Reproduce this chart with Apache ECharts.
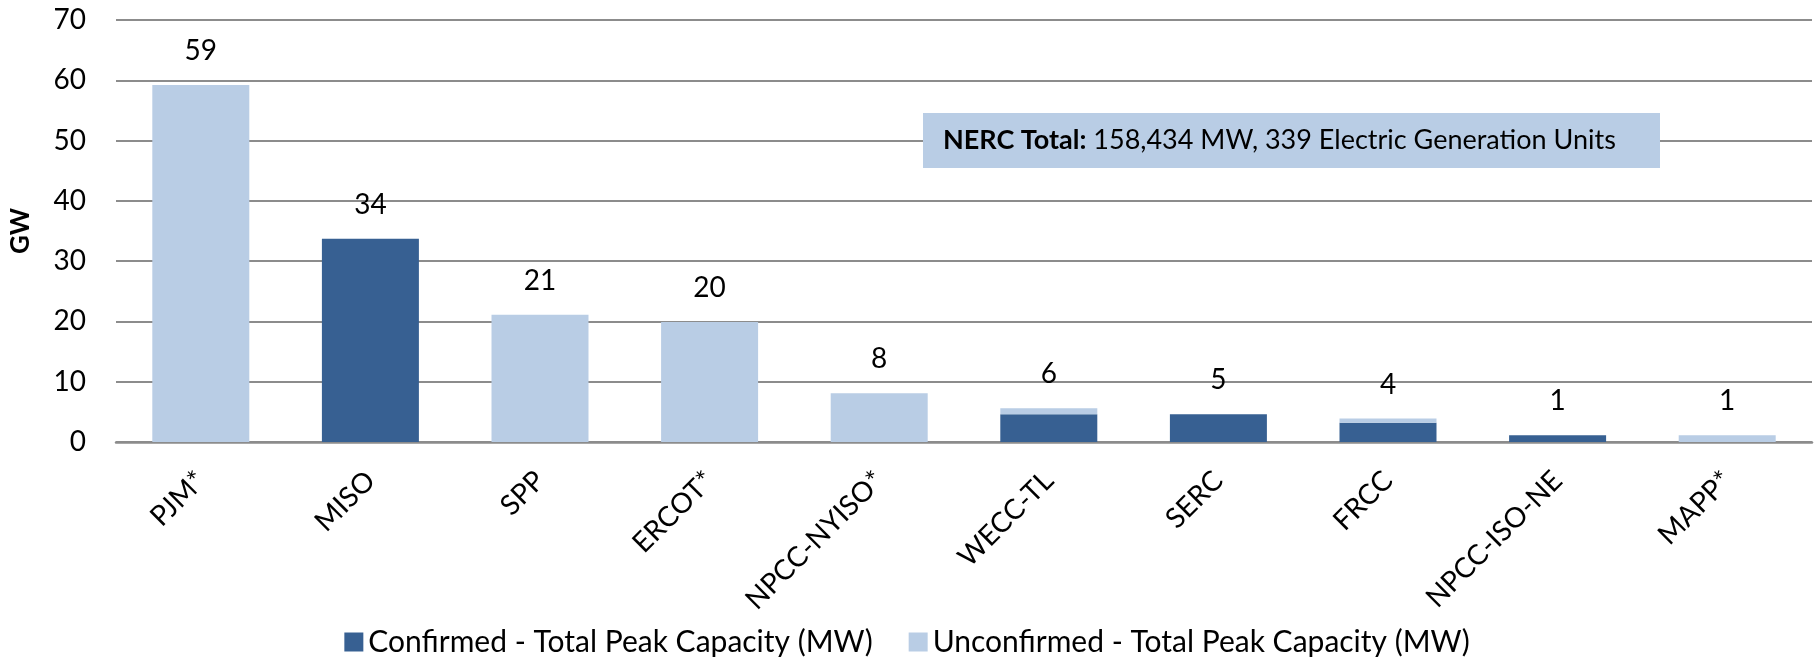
<!DOCTYPE html>
<html>
<head>
<meta charset="utf-8">
<script src="https://cdn.jsdelivr.net/npm/echarts@6/dist/echarts.min.js"></script>
<style>
html,body{margin:0;padding:0;background:#fff;}
#chart{width:1814px;height:660px;}
</style>
</head>
<body>
<div id="chart"></div>
<script>
const categories = ['PJM*', 'MISO', 'SPP', 'ERCOT*', 'NPCC-NYISO*', 'WECC-TL', 'SERC', 'FRCC', 'NPCC-ISO-NE', 'MAPP*'];
const confirmed = [0, 33.7, 0, 0, 0, 4.6, 4.6, 3.2, 1.1, 0];
const unconfirmed = [59.2, 0, 21.1, 19.9, 8.1, 1.0, 0, 0.7, 0, 1.1];
const yTicks = [0, 10, 20, 30, 40, 50, 60, 70];
const seriesNames = ['Confirmed - Total Peak Capacity (MW)', 'Unconfirmed - Total Peak Capacity (MW)'];
const noteBold = 'NERC Total:';
const noteText = ' 158,434 MW, 339 Electric Generation Units';

const totals = categories.map((c, i) => +(confirmed[i] + unconfirmed[i]).toFixed(2));
const FONT = 'Lato';

const chart = echarts.init(document.getElementById('chart'), null, {renderer: 'canvas'});
chart.setOption({
  animation: false,
  textStyle: {fontFamily: FONT, color: '#000'},
  grid: {left: 112, right: 2, top: 20, bottom: 218, containLabel: false},
  legend: {
    data: seriesNames,
    top: 622,
    left: 'center',
    itemWidth: 19,
    itemHeight: 19,
    itemGap: 36,
    icon: 'rect',
    textStyle: {fontFamily: FONT, fontSize: 30, color: '#000'}
  },
  xAxis: {
    type: 'category',
    data: categories,
    axisTick: {show: false},
    axisLine: {show: true, lineStyle: {color: '#8c8c8c', width: 2.5}},
    axisLabel: {rotate: 45, margin: 34, fontFamily: FONT, fontSize: 28, color: '#000', interval: 0}
  },
  yAxis: {
    type: 'value',
    min: yTicks[0],
    max: yTicks[yTicks.length - 1],
    interval: 10,
    name: 'GW',
    nameLocation: 'middle',
    nameGap: 82,
    nameTextStyle: {fontFamily: FONT, fontSize: 26, fontWeight: 'bold', color: '#000'},
    axisLine: {show: false},
    axisTick: {show: false},
    axisLabel: {margin: 30, fontFamily: FONT, fontSize: 28, color: '#000'},
    splitLine: {lineStyle: {color: '#8c8c8c', width: 2}}
  },
  graphic: [{
    type: 'rect',
    left: 923,
    top: 113,
    z: 100,
    shape: {width: 737, height: 55},
    style: {fill: '#B9CDE5'}
  }, {
    type: 'text',
    left: 943,
    top: 127,
    z: 101,
    style: {
      text: '{b|' + noteBold + '}{n|' + noteText + '}',
      rich: {
        b: {fontFamily: FONT, fontSize: 27, fontWeight: 'bold', fill: '#000', color: '#000'},
        n: {fontFamily: FONT, fontSize: 27, fill: '#000', color: '#000'}
      }
    }
  }],
  series: [{
    name: seriesNames[0],
    type: 'bar',
    stack: 'cap',
    data: confirmed,
    barWidth: 97,
    itemStyle: {color: '#376092'}
  }, {
    name: seriesNames[1],
    type: 'bar',
    stack: 'cap',
    data: unconfirmed,
    barWidth: 97,
    itemStyle: {color: '#B9CDE5'}
  }, {
    name: 'labels',
    type: 'bar',
    data: totals,
    barWidth: 97,
    barGap: '-100%',
    itemStyle: {color: 'rgba(0,0,0,0)'},
    silent: true,
    label: {
      show: true,
      position: 'top',
      distance: 20,
      fontFamily: FONT,
      fontSize: 28,
      color: '#000',
      formatter: p => Math.round(p.value)
    },
    z: 1
  }]
});
</script>
</body>
</html>
